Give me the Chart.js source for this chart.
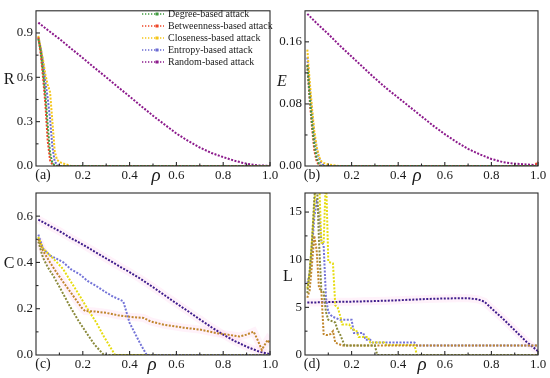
<!DOCTYPE html>
<html><head><meta charset="utf-8">
<script src="https://cdn.jsdelivr.net/npm/chart.js@4/dist/chart.umd.min.js"></script>
<style>
html,body{margin:0;padding:0;background:#fff;}
#wrap{position:relative;width:550px;height:378px;overflow:hidden;background:#fff;}
canvas{position:absolute;left:0;top:0;}
</style></head><body>
<div id="wrap">
<canvas id="ca" width="550" height="378"></canvas>
<canvas id="cb" width="550" height="378"></canvas>
<canvas id="cc" width="550" height="378"></canvas>
<canvas id="cd" width="550" height="378"></canvas>
</div>
<script>
// ---------- DATA ----------
const seriesNames = ['Degree-based attack','Betweenness-based attack','Closeness-based attack','Entropy-based attack','Random-based attack'];
const xTicks = [0.2, 0.4, 0.6, 0.8, 1.0];
const yTicksR = [0, 0.3, 0.6, 0.9];
const yTicksE = [0, 0.08, 0.16];
const yTicksC = [0, 0.2, 0.4, 0.6];
const yTicksL = [0, 5, 10, 15];

const rhoRandom = [0.01,0.05,0.1,0.15,0.2,0.25,0.3,0.35,0.4,0.45,0.5,0.55,0.6,0.65,0.7,0.75,0.8,0.85,0.9,0.95,1.0];

// (a) R
const R_random = [0.97,0.92,0.86,0.795,0.73,0.665,0.60,0.535,0.47,0.405,0.34,0.28,0.22,0.17,0.125,0.088,0.06,0.035,0.015,0.004,0.001];
const R_degree_x = [0.01,0.02,0.03,0.04,0.05,0.06,0.07,0.08,0.09,1.0];
const R_degree   = [0.86,0.78,0.64,0.48,0.28,0.09,0.02,0.005,0,0];
const R_betw_x   = [0.01,0.02,0.03,0.04,0.05,0.06,0.07,0.08,1.0];
const R_betw     = [0.87,0.76,0.60,0.42,0.17,0.04,0.01,0,0];
const R_close_x  = [0.01,0.02,0.03,0.04,0.05,0.06,0.07,0.08,0.09,0.10,0.11,0.12,0.13,0.14,0.15,1.0];
const R_close    = [0.88,0.80,0.72,0.62,0.55,0.50,0.30,0.10,0.04,0.03,0.02,0.015,0.01,0.005,0,0];
const R_entr_x   = [0.01,0.02,0.03,0.04,0.05,0.06,0.07,0.08,0.09,0.10,1.0];
const R_entr     = [0.87,0.80,0.70,0.57,0.46,0.32,0.13,0.03,0.01,0,0];

// (b) E
const E_random = [0.196,0.184,0.170,0.155,0.141,0.127,0.113,0.100,0.088,0.076,0.064,0.052,0.041,0.031,0.022,0.015,0.009,0.005,0.003,0.002,0.001];
const E_degree_x = [0.01,0.02,0.03,0.04,0.05,0.06,0.07,1.0];
const E_degree   = [0.13,0.09,0.055,0.028,0.01,0.003,0,0];
const E_betw_x   = [0.01,0.02,0.03,0.04,0.05,0.06,0.07,0.98,0.99,1.0];
const E_betw     = [0.13,0.085,0.05,0.02,0.006,0.001,0,0,0.002,0.006];
const E_close_x  = [0.01,0.02,0.03,0.04,0.05,0.06,0.07,0.08,0.09,0.10,0.12,0.15,1.0];
const E_close    = [0.15,0.11,0.075,0.045,0.025,0.012,0.006,0.004,0.003,0.002,0.001,0,0];
const E_entr_x   = [0.01,0.02,0.03,0.04,0.05,0.06,0.07,0.08,0.09,1.0];
const E_entr     = [0.14,0.10,0.07,0.04,0.022,0.01,0.004,0.001,0,0];

// (c) C
const C_random = [0.585,0.563,0.535,0.505,0.477,0.447,0.417,0.387,0.358,0.327,0.293,0.258,0.223,0.189,0.154,0.12,0.088,0.06,0.036,0.016,0.003];
const C_degree_x = [0.01,0.03,0.05,0.075,0.10,0.145,0.18,0.217,0.25,0.29,1.0];
const C_degree   = [0.49,0.42,0.38,0.34,0.295,0.21,0.15,0.094,0.045,0,0];
const C_betw_x   = [0.01,0.03,0.06,0.088,0.12,0.145,0.17,0.195,0.21,0.25,0.30,0.35,0.40,0.46,0.49,0.55,0.63,0.70,0.77,0.82,0.87,0.90,0.93,0.945,0.965,0.975,0.99,1.0];
const C_betw     = [0.50,0.45,0.40,0.356,0.31,0.275,0.24,0.204,0.19,0.188,0.182,0.172,0.165,0.16,0.145,0.13,0.118,0.11,0.095,0.088,0.08,0.088,0.101,0.07,0.022,0.04,0.065,0.05];
const C_close_x  = [0.01,0.03,0.06,0.09,0.117,0.15,0.188,0.22,0.259,0.29,0.316,0.338,0.47];
const C_close    = [0.51,0.46,0.43,0.40,0.37,0.315,0.254,0.20,0.138,0.08,0.036,0,0];
const C_entr_x   = [0.01,0.03,0.06,0.09,0.117,0.15,0.188,0.22,0.259,0.30,0.33,0.359,0.373,0.40,0.444,0.473,1.0];
const C_entr     = [0.52,0.46,0.43,0.415,0.40,0.37,0.348,0.32,0.297,0.27,0.252,0.239,0.232,0.139,0.052,0,0];

// (d) L
const L_random_x = [0.01,0.05,0.1,0.15,0.2,0.25,0.3,0.35,0.4,0.45,0.5,0.55,0.6,0.65,0.7,0.74,0.77,0.8,0.85,0.9,0.95,1.0];
const L_random   = [5.5,5.52,5.55,5.58,5.6,5.63,5.66,5.7,5.74,5.8,5.85,5.9,5.93,5.95,5.95,5.85,5.6,4.9,3.8,2.6,1.4,0.4];
const L_degree_x = [0.01,0.02,0.03,0.04,0.05,0.06,0.07,0.08,0.09,0.10,0.11,0.12,0.13,0.14,0.15,0.16,0.17,0.30,0.31,1.0];
const L_degree   = [6.5,8.8,12,16.5,19,12,6.8,6.6,4.5,3.7,3.6,3.5,3.4,2.6,2.2,1.6,1.0,1.0,0,0];
const L_betw_x   = [0.01,0.02,0.03,0.04,0.05,0.06,0.07,0.08,0.09,0.10,0.11,0.12,0.13,0.14,0.15,0.16,1.0];
const L_betw     = [6.0,6.8,9.5,12.5,11,7.0,6.8,2.2,2.1,2.1,2.2,2.5,1.3,1.2,1.1,1.0,1.0];
const L_close_x  = [0.01,0.02,0.03,0.04,0.05,0.06,0.07,0.08,0.09,0.10,0.11,0.12,0.13,0.14,0.15,0.16,0.19,0.20,0.22,0.23,0.27,0.28,0.34,0.35,0.47,0.48,1.0];
const L_close    = [7.0,8.5,12,15.5,19,19,11.8,11.7,19,9.8,9.7,9.6,5.2,5.0,4.2,3.2,3.2,2.7,2.6,1.9,1.9,1.3,1.3,1.05,1.05,0,0];
const L_entr_x   = [0.01,0.02,0.03,0.04,0.05,0.06,0.07,0.08,0.09,0.10,0.11,0.12,0.13,0.14,0.15,0.20,0.21,0.25,0.26,0.28,0.29,0.47,0.48,1.0];
const L_entr     = [7.5,8.5,11,14.5,16,15,12,11.5,6,4.5,4.2,4.0,3.9,3.8,3.7,3.7,2.3,2.3,1.6,1.6,1.3,1.3,1.0,1.0];

// ---------- STYLE / BUILD ----------
const SERIF = "'Liberation Serif', 'Times New Roman', serif";
const colorsTop = ['#3f9a3f','#ee4526','#f5c518','#6a6ad2','#8c1a8c'];
const colorsBot = ['#8a8a3a','#c0862c','#e6dc10','#7474d8','#3e1c8c'];
const HALO = 'rgba(255,190,232,0.20)';
const pts = (xs, ys) => xs.map((x, i) => ({x: x, y: ys[i]}));

function ds(name, data, color) {
  return {label: name, data: data, borderColor: color, backgroundColor: color,
    borderWidth: 2, borderDash: [2, 1.5], pointRadius: 0, fill: false, tension: 0, order: 1};
}
function halo(data) {
  return {label: '', data: data, borderColor: HALO, borderWidth: 8, pointRadius: 0,
    fill: false, tension: 0, order: 10, halo: true};
}

function makePanel(cfg) {
  const YW = 30, XH = 22;
  const a = cfg.area;
  const deco = {
    id: 'deco' + cfg.id,
    afterDraw(chart) {
      const ctx = chart.ctx;
      const ca = chart.chartArea;
      const xs = chart.scales.x, ys = chart.scales.y;
      ctx.save();
      ctx.strokeStyle = '#2a2a2a';
      ctx.lineWidth = 1.1;
      ctx.setLineDash([]);
      ctx.strokeRect(ca.left, ca.top, ca.right - ca.left, ca.bottom - ca.top);
      const xstep = xTicks[1] - xTicks[0];
      for (let i = 1; i * xstep / 2 < 1.0001; i++) {
        const v = i * xstep / 2;
        const px = xs.getPixelForValue(v);
        const len = (i % 2 === 0) ? 4 : 2.5;
        ctx.beginPath(); ctx.moveTo(px, ca.bottom); ctx.lineTo(px, ca.bottom - len); ctx.stroke();
      }
      const yt = cfg.yTicks, ystep = yt[1] - yt[0];
      for (let i = 1; i * ystep / 2 < cfg.yMax; i++) {
        const v = i * ystep / 2;
        const py = ys.getPixelForValue(v);
        const len = (i % 2 === 0) ? 4 : 2.5;
        ctx.beginPath(); ctx.moveTo(ca.left, py); ctx.lineTo(ca.left + len, py); ctx.stroke();
      }
      ctx.fillStyle = '#1a1a1a';
      ctx.font = '14px ' + SERIF;
      ctx.textAlign = 'center'; ctx.textBaseline = 'middle';
      ctx.fillText(cfg.tag, ca.left + 7, ca.bottom + 9.5);
      ctx.font = 'italic 19px ' + SERIF;
      ctx.textBaseline = 'alphabetic';
      ctx.fillText('\u03C1', cfg.rhoX, ca.bottom + 15);
      ctx.font = (cfg.yItalic ? 'italic ' : '') + '16px ' + SERIF;
      ctx.textBaseline = 'middle';
      ctx.fillText(cfg.yLabel, cfg.yLabelPos[0], cfg.yLabelPos[1]);
      if (cfg.legend) {
        const dsets = chart.data.datasets.filter(d => !d.halo);
        for (let k = 0; k < dsets.length; k++) {
          const yy = 14 + k * 12;
          const c = dsets[k].borderColor;
          ctx.strokeStyle = c; ctx.lineWidth = 1.3; ctx.setLineDash([1.3, 1.7]);
          ctx.beginPath(); ctx.moveTo(142, yy); ctx.lineTo(164, yy); ctx.stroke();
          ctx.setLineDash([]);
          ctx.fillStyle = c; ctx.fillRect(155.5, yy - 1.5, 3, 3);
          ctx.fillStyle = '#1a1a1a';
          ctx.font = '10px ' + SERIF;
          ctx.textAlign = 'left';
          ctx.fillText(dsets[k].label, 168, yy + 0.5);
        }
      }
      ctx.restore();
    }
  };
  return new Chart(document.getElementById(cfg.id), {
    type: 'line',
    data: {datasets: cfg.datasets},
    options: {
      responsive: false, animation: false, devicePixelRatio: 1,
      layout: {padding: {left: a.l - YW, top: a.t, right: 550 - a.r, bottom: 378 - a.b - XH}},
      plugins: {legend: {display: false}, tooltip: {enabled: false}},
      scales: {
        x: {type: 'linear', min: 0, max: 1,
          grid: {display: false, drawTicks: false}, border: {display: false},
          afterBuildTicks: s => { s.ticks = xTicks.map(v => ({value: v})); },
          afterFit: s => { s.height = XH; },
          ticks: {padding: 1.5, color: '#1a1a1a', maxRotation: 0, autoSkip: false,
            font: {family: SERIF, size: 13}, callback: v => Number(v).toFixed(1)}},
        y: {type: 'linear', min: 0, max: cfg.yMax,
          grid: {display: false, drawTicks: false}, border: {display: false},
          afterBuildTicks: s => { s.ticks = cfg.yTicks.map(v => ({value: v})); },
          afterFit: s => { s.width = YW; },
          ticks: {padding: 3, color: '#1a1a1a', autoSkip: false,
            font: {family: SERIF, size: 13}, callback: v => cfg.yFmt(v)}}
      }
    },
    plugins: [deco]
  });
}

function buildSets(cols, list) {
  return list.map((p, i) => ds(seriesNames[i], p, cols[i]));
}

makePanel({id: 'ca', area: {l: 36, r: 270, t: 5, b: 166}, yMax: 1.05, yTicks: yTicksR,
  yFmt: v => Number(v).toFixed(1), tag: '(a)', yLabel: 'R', yItalic: false, yLabelPos: [9, 80], rhoX: 156, legend: true,
  datasets: buildSets(colorsTop, [pts(R_degree_x, R_degree), pts(R_betw_x, R_betw), pts(R_close_x, R_close), pts(R_entr_x, R_entr), pts(rhoRandom, R_random)])});

makePanel({id: 'cb', area: {l: 305, r: 538, t: 5, b: 166}, yMax: 0.2, yTicks: yTicksE,
  yFmt: v => Number(v).toFixed(2), tag: '(b)', yLabel: 'E', yItalic: true, yLabelPos: [282, 82], rhoX: 417, legend: false,
  datasets: buildSets(colorsTop, [pts(E_degree_x, E_degree), pts(E_betw_x, E_betw), pts(E_close_x, E_close), pts(E_entr_x, E_entr), pts(rhoRandom, E_random)])});

makePanel({id: 'cc', area: {l: 36, r: 270, t: 193, b: 355}, yMax: 0.7, yTicks: yTicksC,
  yFmt: v => Number(v).toFixed(1), tag: '(c)', yLabel: 'C', yItalic: false, yLabelPos: [9, 264], rhoX: 152, legend: false,
  datasets: buildSets(colorsBot, [pts(C_degree_x, C_degree), pts(C_betw_x, C_betw), pts(C_close_x, C_close), pts(C_entr_x, C_entr), pts(rhoRandom, C_random)])
    .concat([halo(pts(rhoRandom, C_random)), halo(pts(C_betw_x, C_betw))])});

makePanel({id: 'cd', area: {l: 305, r: 538, t: 193, b: 355}, yMax: 17, yTicks: yTicksL,
  yFmt: v => String(v), tag: '(d)', yLabel: 'L', yItalic: false, yLabelPos: [288, 277], rhoX: 422, legend: false,
  datasets: buildSets(colorsBot, [pts(L_degree_x, L_degree), pts(L_betw_x, L_betw), pts(L_close_x, L_close), pts(L_entr_x, L_entr), pts(L_random_x, L_random)])
    .concat([halo(pts(L_random_x, L_random))])});
</script>
</body></html>
